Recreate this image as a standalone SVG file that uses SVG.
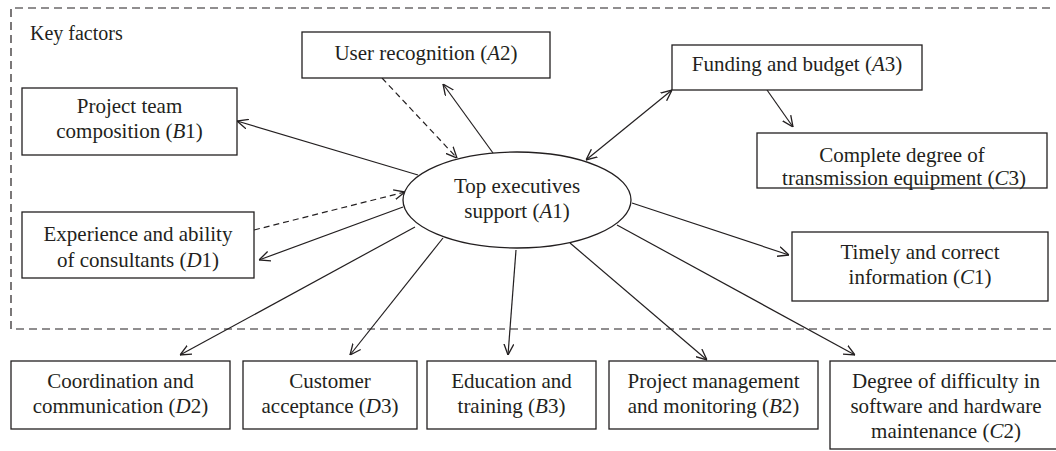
<svg xmlns="http://www.w3.org/2000/svg" width="1056" height="451" viewBox="0 0 1056 451">
  <style>
    .box { fill: #ffffff; stroke: #231f20; stroke-width: 1.3; }
    .frame { fill: none; stroke: #231f20; stroke-width: 1.2; stroke-dasharray: 8 5; }
    .lbl { font-family: "Liberation Serif", "Times New Roman", serif; font-size: 21px; fill: #231f20; text-anchor: middle; }
    .it { font-style: italic; }
    .edge { fill: none; stroke: #231f20; stroke-width: 1.2; marker-end: url(#arrow); }
    .dash { stroke-dasharray: 6 4; }
    .both { marker-start: url(#arrowStart); }
  </style>
  <defs>
    <marker id="arrow" viewBox="0 0 10 10" refX="10" refY="5" markerWidth="11" markerHeight="11" markerUnits="userSpaceOnUse" orient="auto">
      <path d="M0,0.5 L10,5 L0,9.5" fill="none" stroke="#231f20" stroke-width="1.2"/>
    </marker>
    <marker id="arrowStart" viewBox="0 0 10 10" refX="10" refY="5" markerWidth="11" markerHeight="11" markerUnits="userSpaceOnUse" orient="auto-start-reverse">
      <path d="M0,0.5 L10,5 L0,9.5" fill="none" stroke="#231f20" stroke-width="1.2"/>
    </marker>
  </defs>
  <rect width="1056" height="451" fill="#ffffff"/>

  <!-- key factors region -->
  <g id="key-factors">
    <path class="frame" d="M1050,8 H11 V329 H1056"/>
    <text class="lbl" x="30" y="40" style="text-anchor:start;font-size:20px">Key factors</text>
  </g>

  <!-- connectors -->
  <g id="connectors">
    <line class="edge" x1="418" y1="175" x2="237" y2="121"/>
    <line class="edge dash" x1="382" y1="78" x2="457" y2="158"/>
    <line class="edge" x1="493" y1="153" x2="443" y2="84"/>
    <line class="edge both" x1="586" y1="160" x2="672" y2="90"/>
    <line class="edge" x1="767" y1="90" x2="793" y2="127"/>
    <line class="edge dash" x1="254" y1="230" x2="405" y2="192"/>
    <line class="edge" x1="403" y1="207" x2="259" y2="260"/>
    <line class="edge" x1="415" y1="227" x2="180" y2="355"/>
    <line class="edge" x1="443" y1="238" x2="350" y2="355"/>
    <line class="edge" x1="516" y1="250" x2="508" y2="355"/>
    <line class="edge" x1="570" y1="243" x2="707" y2="360"/>
    <line class="edge" x1="617" y1="225" x2="855" y2="355"/>
    <line class="edge" x1="632" y1="203" x2="789" y2="255"/>
  </g>

  <g id="A1">
    <ellipse class="box" cx="517" cy="200" rx="114" ry="48"/>
    <text class="lbl" x="517" y="193">Top executives</text>
    <text class="lbl" x="517" y="218">support (<tspan class="it">A</tspan>1)</text>
  </g>

  <g id="A2">
    <rect class="box" x="302" y="32" width="248" height="46"/>
    <text class="lbl" x="426" y="60">User recognition (<tspan class="it">A</tspan>2)</text>
  </g>

  <g id="A3">
    <rect class="box" x="672" y="45" width="250" height="45"/>
    <text class="lbl" x="797" y="71">Funding and budget (<tspan class="it">A</tspan>3)</text>
  </g>

  <g id="B1">
    <rect class="box" x="22" y="88" width="215" height="67"/>
    <text class="lbl" x="129.5" y="113">Project team</text>
    <text class="lbl" x="129.5" y="138">composition (<tspan class="it">B</tspan>1)</text>
  </g>

  <g id="C3">
    <rect class="box" x="757" y="133" width="290" height="55"/>
    <text class="lbl" x="902" y="162">Complete degree of</text>
    <text class="lbl" x="904" y="185">transmission equipment (<tspan class="it">C</tspan>3)</text>
  </g>

  <g id="D1">
    <rect class="box" x="22" y="212" width="232" height="66"/>
    <text class="lbl" x="138" y="241">Experience and ability</text>
    <text class="lbl" x="138" y="267">of consultants (<tspan class="it">D</tspan>1)</text>
  </g>

  <g id="C1">
    <rect class="box" x="792" y="232" width="256" height="69"/>
    <text class="lbl" x="920" y="259">Timely and correct</text>
    <text class="lbl" x="920" y="284">information (<tspan class="it">C</tspan>1)</text>
  </g>

  <g id="D2">
    <rect class="box" x="11" y="361" width="219" height="68"/>
    <text class="lbl" x="120.5" y="388">Coordination and</text>
    <text class="lbl" x="120.5" y="413">communication (<tspan class="it">D</tspan>2)</text>
  </g>

  <g id="D3">
    <rect class="box" x="243" y="361" width="174" height="68"/>
    <text class="lbl" x="330" y="388">Customer</text>
    <text class="lbl" x="330" y="413">acceptance (<tspan class="it">D</tspan>3)</text>
  </g>

  <g id="B3">
    <rect class="box" x="427" y="361" width="169" height="68"/>
    <text class="lbl" x="511.5" y="388">Education and</text>
    <text class="lbl" x="511.5" y="413">training (<tspan class="it">B</tspan>3)</text>
  </g>

  <g id="B2">
    <rect class="box" x="609" y="361" width="209" height="68"/>
    <text class="lbl" x="713.5" y="388">Project management</text>
    <text class="lbl" x="713.5" y="413">and monitoring (<tspan class="it">B</tspan>2)</text>
  </g>

  <g id="C2">
    <rect class="box" x="830" y="361" width="232" height="88"/>
    <text class="lbl" x="946" y="388">Degree of difficulty in</text>
    <text class="lbl" x="946" y="413">software and hardware</text>
    <text class="lbl" x="946" y="438">maintenance (<tspan class="it">C</tspan>2)</text>
  </g>
</svg>
